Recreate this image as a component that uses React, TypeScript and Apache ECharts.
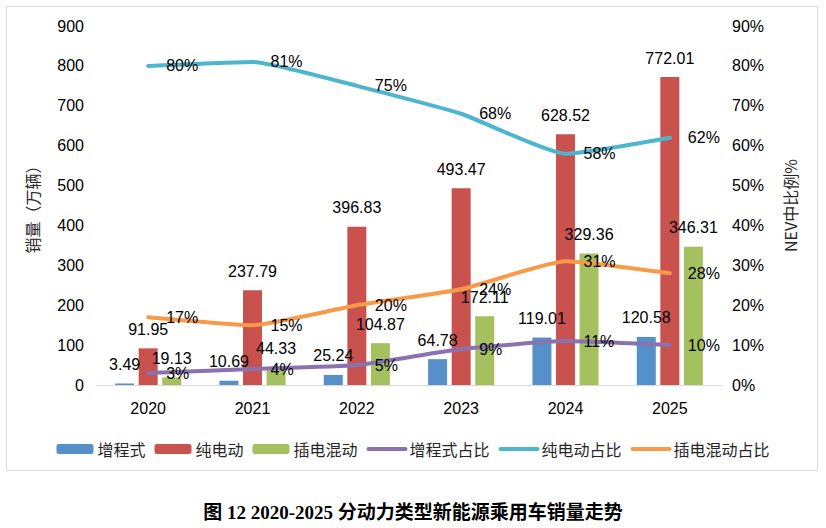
import React, { useEffect, useRef } from "react";
import * as echarts from "echarts";

const years = ["2020", "2021", "2022", "2023", "2024", "2025"];
const erevSales = [3.49, 10.69, 25.24, 64.78, 119.01, 120.58];
const bevSales = [91.95, 237.79, 396.83, 493.47, 628.52, 772.01];
const phevSales = [19.13, 44.33, 104.87, 172.11, 329.36, 346.31];
const erevShare = [3, 4, 5, 9, 11, 10];
const bevShare = [80, 81, 75, 68, 58, 62];
const phevShare = [17, 15, 20, 24, 31, 28];

const seriesNames = ["增程式", "纯电动", "插电混动", "增程式占比", "纯电动占比", "插电混动占比"];
const colors = ["#5590C8", "#C9524F", "#A5C05E", "#8A72B0", "#4DB5CD", "#F99A48"];
const titleText = "图 12 2020-2025 分动力类型新能源乘用车销量走势";

const numFont = "'Liberation Sans', Arial, Helvetica, sans-serif";
const cjkFont = "'Noto Sans CJK SC', 'Liberation Sans', sans-serif";

export default function App() {
  const ref = useRef<HTMLDivElement>(null);
  useEffect(() => {
    if (!ref.current) return;
    const chart = echarts.init(ref.current, undefined, { renderer: "svg" });
    const barLabel = {
      show: true,
      position: "top",
      distance: 11,
      color: "#000",
      fontSize: 16,
      fontFamily: numFont,
    };
    const lineLabel = {
      show: true,
      position: "right",
      distance: 17,
      color: "#000",
      opacity: 1,
      fontSize: 16,
      fontFamily: numFont,
      formatter: "{c}%",
    };
    const barData = [erevSales, bevSales, phevSales];
    const lineData = [erevShare, bevShare, phevShare];
    chart.setOption({
      animation: false,
      color: colors,
      grid: { left: 96, right: 104, top: 26, bottom: 143 },
      graphic: [
        {
          type: "rect",
          shape: { x: 6.5, y: 6.5, width: 811, height: 464 },
          style: { fill: "none", stroke: "#D9D9D9", lineWidth: 1 },
          silent: true,
        },
        {
          type: "text",
          x: 413,
          y: 512,
          style: {
            text: titleText,
            fontSize: 19,
            fontWeight: "bold",
            fontFamily: "'Liberation Serif', 'Noto Sans CJK SC', serif",
            fill: "#000",
            align: "center",
            verticalAlign: "middle",
          },
        },
      ],
      legend: {
        data: seriesNames.map((n, i) =>
          i < 3 ? { name: n } : { name: n, lineStyle: { width: 4, color: colors[i] } }
        ),
        top: 436,
        left: "center",
        itemWidth: 37,
        itemHeight: 10,
        itemGap: 9,
        textStyle: { fontSize: 16, fontFamily: cjkFont, color: "#262626", padding: [0, 0, 0, -1] },
      },
      xAxis: {
        type: "category",
        data: years,
        axisLine: { show: true, lineStyle: { color: "#D9D9D9", width: 1 } },
        axisTick: { show: false },
        axisLabel: { color: "#000", fontSize: 16, fontFamily: numFont, margin: 15 },
      },
      yAxis: [
        {
          type: "value",
          min: 0,
          max: 900,
          interval: 100,
          name: "销量（万辆）",
          nameLocation: "middle",
          nameGap: 56,
          nameTextStyle: { fontSize: 16, fontFamily: cjkFont, color: "#262626" },
          axisLine: { show: false },
          axisTick: { show: false },
          splitLine: { show: false },
          axisLabel: { color: "#000", fontSize: 16, fontFamily: numFont, margin: 12 },
        },
        {
          type: "value",
          min: 0,
          max: 90,
          interval: 10,
          name: "NEV中比例%",
          nameLocation: "middle",
          nameRotate: 90,
          nameGap: 60,
          nameTextStyle: { fontSize: 16, fontFamily: cjkFont, color: "#262626" },
          axisLine: { show: false },
          axisTick: { show: false },
          splitLine: { show: false },
          axisLabel: { color: "#000", fontSize: 16, fontFamily: numFont, margin: 10, formatter: "{value}%" },
        },
      ],
      series: [
        ...barData.map((d, i) => ({
          name: seriesNames[i],
          type: "bar",
          data: d,
          barWidth: 19,
          barGap: "24%",
          itemStyle: { color: colors[i] },
          label: barLabel,
          z: 2,
        })),
        ...lineData.map((d, i) => ({
          name: seriesNames[i + 3],
          type: "line",
          yAxisIndex: 1,
          data: d,
          symbol: "circle",
          symbolSize: 2,
          showSymbol: true,
          smooth: 0.15,
          lineStyle: { color: colors[i + 3], width: 4, cap: "round" },
          itemStyle: { color: "rgba(0,0,0,0)", borderWidth: 0 },
          label: lineLabel,
          z: 3,
        })),
      ],
    });
    return () => chart.dispose();
  }, []);
  return <div ref={ref} style={{ position: "absolute", left: 0, top: 0, width: 826, height: 528 }} />;
}
